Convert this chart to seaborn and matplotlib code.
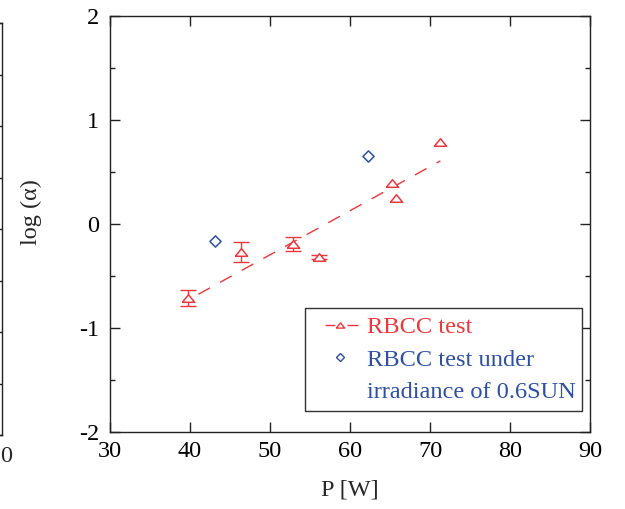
import numpy as np
import pandas as pd
import matplotlib
matplotlib.use('Agg')
import matplotlib.pyplot as plt
from matplotlib.lines import Line2D
from matplotlib.ticker import MultipleLocator
import seaborn as sns

# values
rbcc_power = [39.8, 46.4, 52.9, 56.1, 65.3, 65.7, 71.3]
rbcc_log_alpha = [-0.71, -0.27, -0.19, -0.32, 0.39, 0.25, 0.79]
rbcc_err = [0.08, 0.10, 0.065, 0.02, 0.0, 0.0, 0.0]

sun06_power = [43.1, 62.3]
sun06_log_alpha = [-0.16, 0.65]

x_ticks = [30, 40, 50, 60, 70, 80, 90]
y_ticks = [-2, -1, 0, 1, 2]

red = '#e8383d'
blue = '#2f4f9f'
fs = 17.5
fs_leg = 17.6

sns.set_style('ticks')
plt.rcParams['font.family'] = ['Liberation Serif', 'DejaVu Serif']
plt.rcParams['axes.unicode_minus'] = False

rbcc = pd.DataFrame({'P': rbcc_power, 'log_alpha': rbcc_log_alpha, 'err': rbcc_err})
sun06 = pd.DataFrame({'P': sun06_power, 'log_alpha': sun06_log_alpha})

fig = plt.figure(figsize=(6.25, 5.09), dpi=100)
ax = fig.add_axes([110 / 625, 1 - 432 / 509, 480 / 625, 416 / 509])

# flattened open triangle like the original
tri = [(-1, -0.62), (1, -0.62), (0, 0.62), (-1, -0.62)]

# linear fit through the RBCC points (dashed)
sns.regplot(data=rbcc, x='P', y='log_alpha', scatter=False, ci=None, ax=ax,
            line_kws={'color': red, 'lw': 1, 'ls': (9.6, (9.6, 8.2)), 'zorder': 2})

# error bars on the points that have them
eb = rbcc[rbcc['err'] > 0]
ax.errorbar(eb['P'], eb['log_alpha'], yerr=eb['err'], fmt='none', ecolor=red,
            elinewidth=1, capsize=5.8, capthick=1, zorder=3)

sns.scatterplot(data=rbcc, x='P', y='log_alpha', marker=tri, s=8.8 ** 2,
                facecolor='white', edgecolor=red, linewidth=1.1, zorder=4, ax=ax)
sns.scatterplot(data=sun06, x='P', y='log_alpha', marker='D', s=5.7 ** 2,
                facecolor='white', edgecolor=blue, linewidth=1.1, zorder=4, ax=ax)

ax.set_xlim(30, 90)
ax.set_ylim(-2, 2)
ax.set_xticks(x_ticks)
ax.set_yticks(y_ticks)
ax.yaxis.set_minor_locator(MultipleLocator(0.5))
ax.tick_params(which='both', direction='in', top=True, right=True, width=1,
               colors='#222222', labelcolor='black', labelsize=fs)
ax.tick_params(which='major', length=7)
ax.tick_params(which='minor', length=3.5)
ax.tick_params(axis='x', pad=6.5)
ax.tick_params(axis='y', pad=8)
for s in ax.spines.values():
    s.set_linewidth(1)
    s.set_color('#222222')

ax.set_xlabel('P [W]', fontsize=fs)
ax.set_ylabel('log (α)', fontsize=fs)
ax.xaxis.set_label_coords(0.5, -0.113)
ax.yaxis.set_label_coords(-0.142, 0.529)

# legend: proxy handles so the marker sits on the first line of the 2nd label
h_red = Line2D([], [], color=red, lw=1, ls=(30.24, (7.2, 8.64, 7.92, 15.12)),
               marker=tri, ms=6, mfc='white', mec=red, mew=1)
h_blue = Line2D([], [], ls='none', marker='D', ms=3.6, mfc='white', mec=blue, mew=1)
h_none = Line2D([], [], ls='none', marker='none')
leg = ax.legend([h_red, h_blue, h_none],
                ['RBCC test', 'RBCC test under', 'irradiance of 0.6SUN'],
                loc='lower left', bbox_to_anchor=(0.406, 0.05, 0.577, 0.246),
                mode='expand', borderaxespad=0, fontsize=fs_leg, frameon=True,
                fancybox=False, framealpha=1, edgecolor='#333333',
                borderpad=0.34, labelspacing=0.42, handlelength=2.2,
                handletextpad=0.0)
leg.get_frame().set_linewidth(1)
for t, c in zip(leg.get_texts(), [red, blue, blue]):
    t.set_color(c)

# cut-off edge of the neighbouring panel on the far left
ax2 = fig.add_axes([-0.3, 1 - 435 / 509, 0.3 + 2 / 625, (435 - 23) / 509])
ax2.set_xlim(0, 1)
ax2.set_ylim(0, 1)
ax2.set_xticks([])
ax2.yaxis.set_major_locator(MultipleLocator(0.125))
ax2.tick_params(axis='y', direction='in', left=False, right=True, labelleft=False,
                length=5, width=1, colors='#222222')
ax2.spines['left'].set_visible(False)
for s in ['right', 'top', 'bottom']:
    ax2.spines[s].set_linewidth(1)
    ax2.spines[s].set_color('#222222')
fig.text(0.0, 1 - 456 / 509, '0', fontsize=fs, ha='left', va='center')

fig.savefig('out.png', dpi=100, facecolor='white')
